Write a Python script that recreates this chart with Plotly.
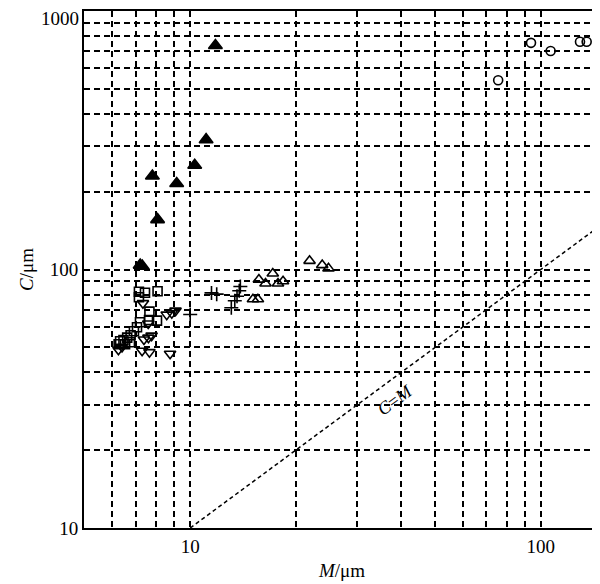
import numpy as np
import plotly.graph_objects as go

# ---- data ----
filled_tri_x = [11.8, 11.1, 10.3, 7.8, 9.15, 8.07, 7.2, 7.3]
filled_tri_y = [735, 318, 253, 230, 215, 156, 104, 103]

open_tri_x = [21.9, 23.8, 24.8, 17.2, 15.7, 16.4, 17.8, 18.4, 15.1, 15.6]
open_tri_y = [108, 104, 101, 96.5, 91.4, 88.3, 88.3, 90.1, 76.7, 76.7]

plus_x = [10.0, 11.5, 11.9, 13.1, 13.4, 13.6, 13.8, 13.9]
plus_y = [67, 81.2, 80.3, 71.1, 75.7, 78.8, 82.8, 85.9]

square_x = [7.14, 7.43, 8.07, 7.65, 8.04, 7.63, 7.19, 7.05, 6.91, 6.76, 6.61, 6.45, 6.31, 6.52, 6.73, 6.25, 7.14]
square_y = [82.0, 81.3, 82.4, 68.7, 63.4, 63.7, 62.5, 59.8, 57.7, 55.7, 54.5, 53.3, 52.8, 51.4, 52.3, 51.4, 78.1]

down_tri_x = [6.24, 6.39, 7.33, 7.59, 8.57, 8.86, 9.08, 7.38, 7.6, 7.76, 7.29, 7.65, 8.76]
down_tri_y = [48.9, 50.2, 74.1, 61.8, 66.9, 67.8, 69.3, 53.6, 54.5, 55.5, 48.5, 47.9, 47.2]

circle_x = [75.6, 93.8, 106.7, 129.4, 135.2]
circle_y = [540, 753, 700, 760, 760]

cm_line = [10, 150]

x_grid = [6, 7, 8, 9, 10, 20, 30, 40, 50, 60, 70, 80, 90, 100]
x_labels = {10: "10", 100: "100"}
y_grid = [10, 20, 30, 40, 50, 60, 70, 80, 90, 100, 200, 300, 400, 500, 600, 700, 800, 900, 1000]
y_labels = {10: "10", 100: "100"}
y_top_label = "1000"

FONT = "Liberation Serif, Times New Roman, serif"

fig = go.Figure()

fig.add_trace(go.Scatter(x=cm_line, y=cm_line, mode="lines",
                         line=dict(color="black", width=1.5, dash="4px,3px"),
                         hoverinfo="skip", showlegend=False))

def add_markers(xs, ys, symbol, size):
    fig.add_trace(go.Scatter(
        x=xs, y=ys, mode="markers", showlegend=False,
        marker=dict(symbol=symbol, size=size,
                    color="black",
                    line=dict(color="black", width=1.6))))

add_markers(filled_tri_x, filled_tri_y, "triangle-up", 12)
add_markers(open_tri_x, open_tri_y, "triangle-up-open", 10)
add_markers(plus_x, plus_y, "cross-thin-open", 10)
add_markers(square_x, square_y, "square-open", 9)
add_markers(down_tri_x, down_tri_y, "triangle-down-open", 10)
add_markers(circle_x, circle_y, "circle-open", 9)

fig.add_annotation(x=np.log10(38.4), y=np.log10(31.2), xref="x", yref="y",
                   text="<i>C</i>=<i>M</i>", showarrow=False, textangle=-36.4,
                   font=dict(family=FONT, size=18, color="black"))

# top y tick label (kept inside the page, just below the top border)
fig.add_annotation(x=0, y=1, xref="paper", yref="paper", xanchor="right", yanchor="middle",
                   xshift=-3, yshift=-7, text=y_top_label, showarrow=False,
                   font=dict(family=FONT, size=19, color="black"))

fig.update_xaxes(type="log", range=[0.697, 2.169],
                 tickvals=x_grid, ticktext=[x_labels.get(v, "") for v in x_grid],
                 showgrid=True, gridcolor="black", gridwidth=1.5, griddash="6px,4px",
                 showline=True, linecolor="black", linewidth=2, mirror=True,
                 ticks="", zeroline=False,
                 tickfont=dict(family=FONT, size=19, color="black"),
                 title=dict(text="<i>M</i>/μm", font=dict(family=FONT, size=19, color="black"),
                            standoff=8))
fig.update_yaxes(type="log", range=[1, 3],
                 tickvals=y_grid, ticktext=[y_labels.get(v, "") for v in y_grid],
                 showgrid=True, gridcolor="black", gridwidth=1.5, griddash="6px,4px",
                 showline=True, linecolor="black", linewidth=2,
                 ticks="", zeroline=False,
                 tickfont=dict(family=FONT, size=19, color="black"),
                 title=dict(text="<i>C</i>/μm", font=dict(family=FONT, size=19, color="black"),
                            standoff=11))

# page body has an 8px margin; size the figure to fit the 600x584 window
fig.update_layout(width=592, height=576,
                  margin=dict(l=76, r=0, t=3, b=56, autoexpand=False),
                  paper_bgcolor="white", plot_bgcolor="white",
                  showlegend=False)

fig.write_html("out.html")
